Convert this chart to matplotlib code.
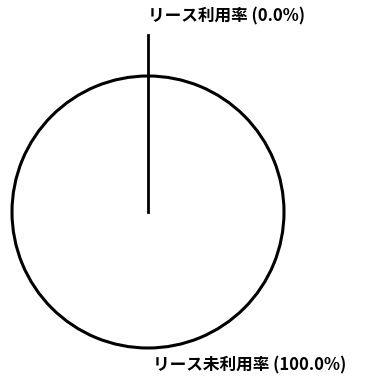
import numpy as np
import matplotlib.pyplot as plt

plt.rcParams['font.family'] = ['Noto Sans CJK JP', 'DejaVu Sans']

# data
labels = ["リース利用率", "リース未利用率"]
shares = [0.0, 100.0]

W, H = 375, 380
fig = plt.figure(figsize=(W / 100, H / 100), dpi=100)
ax = fig.add_axes([0, 0, 1, 1])

cx, cy = 148, H - 212
r = 136

wedges, _ = ax.pie(shares, startangle=90, counterclock=False, center=(cx, cy), radius=r,
                   colors=["white", "white"],
                   wedgeprops=dict(edgecolor="black", linewidth=2.2))
ax.set_xlim(0, W)
ax.set_ylim(0, H)
ax.set_aspect('equal')
ax.axis('off')

# leader line for the zero slice and labels
for w, lab, v in zip(wedges, labels, shares):
    mid = np.deg2rad((w.theta1 + w.theta2) / 2)
    text = f"{lab} ({v:.1f}%)"
    if v == 0:
        x1, y1 = cx + 1.3 * r * np.cos(mid), cy + 1.3 * r * np.sin(mid)
        ax.plot([cx, x1], [cy, y1], color="black", lw=2)
        ax.text(x1, y1 + 10, text, fontsize=12, fontweight='bold', ha='left', va='bottom')
    else:
        x1, y1 = cx + 1.1 * r * np.cos(mid), cy + 1.1 * r * np.sin(mid)
        ax.text(x1 + 5, y1 - 4, text, fontsize=12, fontweight='bold', ha='left', va='center')

fig.savefig("out.png", dpi=100)
